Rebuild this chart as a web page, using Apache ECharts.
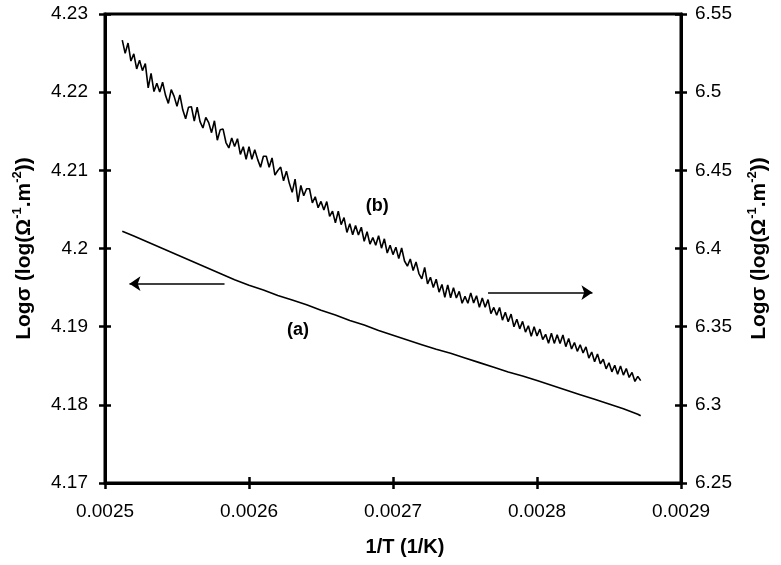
<!DOCTYPE html>
<html>
<head>
<meta charset="utf-8">
<script src="https://cdn.jsdelivr.net/npm/echarts@6/dist/echarts.min.js"></script>
<style>
    html, body { margin: 0; padding: 0; background: #fff; }
    #main { width: 781px; height: 565px; }
</style>
</head>
<body>
<div id="main"></div>
<script>
// 坐标轴范围
var xMin = 0.0025, xMax = 0.0029, xStep = 0.0001;
var leftMin = 4.17, leftMax = 4.23, leftStep = 0.01;
var rightMin = 6.25, rightMax = 6.55, rightStep = 0.05;

// 曲线 (a)，左轴
var aX = [0.002512, 0.00252, 0.00253, 0.00254, 0.00255, 0.00256, 0.00257, 0.00258, 0.00259, 0.0026,
    0.00261, 0.00262, 0.00263, 0.00264, 0.00265, 0.00266, 0.00267, 0.00268, 0.00269, 0.0027,
    0.00271, 0.00272, 0.00273, 0.00274, 0.00275, 0.00276, 0.00277, 0.00278, 0.00279, 0.0028,
    0.00281, 0.00282, 0.00283, 0.00284, 0.00285, 0.00286, 0.00287, 0.002872];
var aY = [4.2022, 4.2016, 4.2008, 4.2000, 4.1992, 4.1984, 4.1976, 4.1968, 4.1960, 4.1953,
    4.1947, 4.1940, 4.1934, 4.1928, 4.1921, 4.1915, 4.1908, 4.1902, 4.1895, 4.1889,
    4.1883, 4.1877, 4.1871, 4.1866, 4.1860, 4.1854, 4.1848, 4.1842, 4.1837, 4.1831,
    4.1825, 4.1819, 4.1813, 4.1807, 4.1801, 4.1795, 4.1788, 4.1786];

// 曲线 (b)，右轴，采样起点和步长
var bX0 = 0.002512, bDx = 0.000002;
var bY = [
    6.5333, 6.5248, 6.5314, 6.5199, 6.5245,
    6.5149, 6.5204, 6.5138, 6.5183, 6.5027,
    6.5120, 6.5004, 6.5057, 6.5001, 6.5064,
    6.4981, 6.4928, 6.5016, 6.4973, 6.4910,
    6.4983, 6.4887, 6.4830, 6.4904, 6.4907,
    6.4815, 6.4904, 6.4812, 6.4771, 6.4839,
    6.4805, 6.4741, 6.4817, 6.4693, 6.4759,
    6.4764, 6.4678, 6.4643, 6.4707, 6.4652,
    6.4702, 6.4602, 6.4651, 6.4571, 6.4651,
    6.4571, 6.4631, 6.4570, 6.4520, 6.4590,
    6.4590, 6.4520, 6.4579, 6.4469, 6.4499,
    6.4521, 6.4433, 6.4495, 6.4417, 6.4359,
    6.4444, 6.4298, 6.4403, 6.4337, 6.4382,
    6.4382, 6.4292, 6.4331, 6.4261, 6.4301,
    6.4246, 6.4300, 6.4205, 6.4239, 6.4164,
    6.4239, 6.4153, 6.4198, 6.4103, 6.4158,
    6.4088, 6.4147, 6.4087, 6.4136, 6.4046,
    6.4107, 6.4028, 6.4070, 6.4021, 6.4082,
    6.4002, 6.4062, 6.3971, 6.4021, 6.3961,
    6.4008, 6.3935, 6.4003, 6.3920, 6.3887,
    6.3933, 6.3859, 6.3914, 6.3840, 6.3806,
    6.3879, 6.3773, 6.3816, 6.3750, 6.3803,
    6.3721, 6.3770, 6.3688, 6.3767, 6.3685,
    6.3749, 6.3683, 6.3726, 6.3650, 6.3694,
    6.3650, 6.3716, 6.3652, 6.3698, 6.3624,
    6.3684, 6.3624, 6.3673, 6.3583, 6.3623,
    6.3573, 6.3623, 6.3542, 6.3592, 6.3532,
    6.3580, 6.3499, 6.3547, 6.3486, 6.3534,
    6.3465, 6.3506, 6.3438, 6.3499, 6.3440,
    6.3484, 6.3417, 6.3451, 6.3394, 6.3458,
    6.3393, 6.3448, 6.3392, 6.3447, 6.3372,
    6.3424, 6.3357, 6.3399, 6.3342, 6.3384,
    6.3332, 6.3371, 6.3299, 6.3338, 6.3276,
    6.3325, 6.3263, 6.3292, 6.3230, 6.3269,
    6.3211, 6.3253, 6.3196, 6.3248, 6.3190,
    6.3232, 6.3175, 6.3207, 6.3150, 6.3182,
    6.3155
];

// 箭头和标注位置
var arrowA = [[0.002583, 4.1955], [0.002517, 4.1955]];
var arrowB = [[0.002766, 6.3718], [0.0028385, 6.3718]];
var labelA = [0.002634, 4.1896];
var labelB = [0.002689, 6.4272];

var fontFam = 'Arial, "Liberation Sans", sans-serif';

var aData = [];
for (var i = 0; i < aX.length; i++) {
    aData.push([aX[i], aY[i]]);
}
var bData = [];
for (var j = 0; j < bY.length; j++) {
    bData.push([bX0 + j * bDx, bY[j]]);
}

var yTitle = 'Logσ (log(Ω{sup|-1}.m{sup|-2}))';
var yTitleStyle = {
    color: '#000',
    fontFamily: fontFam,
    fontWeight: 'bold',
    fontSize: 21,
    lineHeight: 27,
    rich: {
        sup: { fontSize: 13, fontWeight: 'bold', fontFamily: fontFam, color: '#000', verticalAlign: 'top', lineHeight: 27 }
    }
};

function tickAxis(pos, min, max, step) {
    return {
        type: 'value', position: pos, min: min, max: max, interval: step,
        axisLine: { show: false },
        axisTick: { show: true, inside: true, length: 6, lineStyle: { color: '#000', width: 2.5 } },
        axisLabel: { show: false },
        splitLine: { show: false }
    };
}

var myChart = echarts.init(document.getElementById('main'));
var option = {
    animation: false,
    backgroundColor: '#fff',
    grid: {
        left: 105, right: 95, top: 14, bottom: 82,
        show: true, borderColor: '#000', borderWidth: 3
    },
    xAxis: [{
        type: 'value', min: xMin, max: xMax, interval: xStep,
        name: '1/T (1/K)', nameLocation: 'middle', nameGap: 54,
        nameTextStyle: { color: '#000', fontFamily: fontFam, fontWeight: 'bold', fontSize: 20, padding: [0, 0, 0, 24] },
        axisLine: { show: true, lineStyle: { color: '#000', width: 3 } },
        axisTick: { show: true, length: 6, lineStyle: { color: '#000', width: 2.5 } },
        axisLabel: { color: '#000', fontFamily: fontFam, fontSize: 19, margin: 19 },
        splitLine: { show: false }
    }, tickAxis('bottom', xMin, xMax, xStep)],
    yAxis: [{
        type: 'value', position: 'left', min: leftMin, max: leftMax, interval: leftStep,
        name: yTitle, nameLocation: 'middle', nameGap: 67, nameRotate: 90,
        nameTextStyle: yTitleStyle,
        axisLine: { show: true, lineStyle: { color: '#000', width: 3 } },
        axisTick: { show: true, length: 6, lineStyle: { color: '#000', width: 2.5 } },
        axisLabel: { color: '#000', fontFamily: fontFam, fontSize: 19, margin: 17 },
        splitLine: { show: false }
    }, {
        type: 'value', position: 'right', min: rightMin, max: rightMax, interval: rightStep,
        name: yTitle, nameLocation: 'middle', nameGap: 65, nameRotate: 90,
        nameTextStyle: yTitleStyle,
        axisLine: { show: true, lineStyle: { color: '#000', width: 3 } },
        axisTick: { show: true, length: 6, lineStyle: { color: '#000', width: 2.5 } },
        axisLabel: { color: '#000', fontFamily: fontFam, fontSize: 19, margin: 14 },
        splitLine: { show: false }
    }, tickAxis('left', leftMin, leftMax, leftStep), tickAxis('right', rightMin, rightMax, rightStep)],
    series: [{
        name: '(a)',
        type: 'line',
        xAxisIndex: 0,
        yAxisIndex: 0,
        data: aData,
        showSymbol: false,
        lineStyle: { color: '#000', width: 1.6 },
        markLine: {
            silent: true,
            symbol: ['none', 'arrow'],
            symbolSize: 11,
            label: { show: false },
            lineStyle: { color: '#000', width: 1.5, type: 'solid' },
            data: [[{ coord: arrowA[0] }, { coord: arrowA[1] }]]
        },
        markPoint: {
            silent: true,
            symbol: 'circle',
            symbolSize: 1,
            itemStyle: { color: 'rgba(0,0,0,0)' },
            label: { show: true, position: 'inside', formatter: '(a)', color: '#000', fontFamily: fontFam, fontWeight: 'bold', fontSize: 18 },
            data: [{ coord: labelA }]
        }
    }, {
        name: '(b)',
        type: 'line',
        xAxisIndex: 0,
        yAxisIndex: 1,
        data: bData,
        showSymbol: false,
        lineStyle: { color: '#000', width: 1.6 },
        markLine: {
            silent: true,
            symbol: ['none', 'arrow'],
            symbolSize: 11,
            label: { show: false },
            lineStyle: { color: '#000', width: 1.5, type: 'solid' },
            data: [[{ coord: arrowB[0] }, { coord: arrowB[1] }]]
        },
        markPoint: {
            silent: true,
            symbol: 'circle',
            symbolSize: 1,
            itemStyle: { color: 'rgba(0,0,0,0)' },
            label: { show: true, position: 'inside', formatter: '(b)', color: '#000', fontFamily: fontFam, fontWeight: 'bold', fontSize: 18 },
            data: [{ coord: labelB }]
        }
    }]
};
myChart.setOption(option);
</script>
</body>
</html>
